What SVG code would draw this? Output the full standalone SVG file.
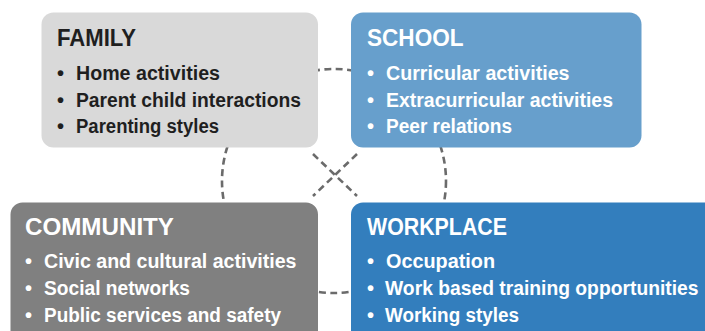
<svg xmlns="http://www.w3.org/2000/svg" width="705" height="331" viewBox="0 0 705 331">
<style>
.conn{fill:none;stroke:#6b6b6b;stroke-width:2.6;stroke-dasharray:7 4.5}
.t{font-family:"Liberation Sans",Arial,sans-serif;font-weight:bold}
.title{font-size:23px}
.body{font-size:20px}
.dark{fill:#1f1f1f}
.light{fill:#ffffff}
</style>
<rect width="705" height="331" fill="#ffffff"/>
<g id="connectors">
<circle class="conn" cx="334" cy="181" r="112"/>
<line class="conn" x1="313" y1="154" x2="357" y2="196"/>
<line class="conn" x1="357" y1="154" x2="313" y2="196"/>
</g>
<g id="family">
<rect x="41.5" y="12.5" width="276.5" height="135" rx="12" fill="#d9d9d9"/>
<text class="t title dark" x="57" y="46" textLength="79" lengthAdjust="spacingAndGlyphs">FAMILY</text>
<text class="t body dark" y="80.3"><tspan x="57">•</tspan><tspan x="76" textLength="144" lengthAdjust="spacingAndGlyphs">Home activities</tspan></text>
<text class="t body dark" y="106.6"><tspan x="57">•</tspan><tspan x="76" textLength="225" lengthAdjust="spacingAndGlyphs">Parent child interactions</tspan></text>
<text class="t body dark" y="133"><tspan x="57">•</tspan><tspan x="76" textLength="143" lengthAdjust="spacingAndGlyphs">Parenting styles</tspan></text>
</g>
<g id="school">
<rect x="351" y="12.5" width="290.5" height="135" rx="12" fill="#679fcc"/>
<text class="t title light" x="367" y="46" textLength="96.5" lengthAdjust="spacingAndGlyphs">SCHOOL</text>
<text class="t body light" y="80.3"><tspan x="367">•</tspan><tspan x="386" textLength="183.5" lengthAdjust="spacingAndGlyphs">Curricular activities</tspan></text>
<text class="t body light" y="106.6"><tspan x="367">•</tspan><tspan x="386" textLength="227" lengthAdjust="spacingAndGlyphs">Extracurricular activities</tspan></text>
<text class="t body light" y="133"><tspan x="367">•</tspan><tspan x="386" textLength="126" lengthAdjust="spacingAndGlyphs">Peer relations</tspan></text>
</g>
<g id="community">
<path d="M22.5,202.5 H306 A12,12 0 0 1 318,214.5 V331 H10.5 V214.5 A12,12 0 0 1 22.5,202.5 Z" fill="#808080"/>
<text class="t title light" x="25" y="235" textLength="149" lengthAdjust="spacingAndGlyphs">COMMUNITY</text>
<text class="t body light" y="268.3"><tspan x="25">•</tspan><tspan x="44" textLength="252.5" lengthAdjust="spacingAndGlyphs">Civic and cultural activities</tspan></text>
<text class="t body light" y="295"><tspan x="25">•</tspan><tspan x="44" textLength="146" lengthAdjust="spacingAndGlyphs">Social networks</tspan></text>
<text class="t body light" y="321.6"><tspan x="25">•</tspan><tspan x="44" textLength="237" lengthAdjust="spacingAndGlyphs">Public services and safety</tspan></text>
</g>
<g id="workplace">
<path d="M363,202.5 H705 V331 H351 V214.5 A12,12 0 0 1 363,202.5 Z" fill="#337ebd"/>
<text class="t title light" x="367" y="234.5" textLength="140" lengthAdjust="spacingAndGlyphs">WORKPLACE</text>
<text class="t body light" y="268.3"><tspan x="367">•</tspan><tspan x="386" textLength="109" lengthAdjust="spacingAndGlyphs">Occupation</tspan></text>
<text class="t light" y="295" style="font-size:19.3px"><tspan x="367" style="font-size:20px">•</tspan><tspan x="385">Work based training opportunities</tspan></text>
<text class="t body light" y="321.6"><tspan x="367">•</tspan><tspan x="385" textLength="134" lengthAdjust="spacingAndGlyphs">Working styles</tspan></text>
</g>
</svg>
